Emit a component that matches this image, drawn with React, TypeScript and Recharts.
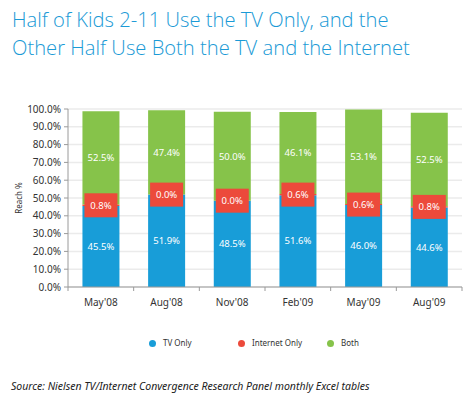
import React from "react";
import { BarChart, Bar, XAxis, YAxis, CartesianGrid, LabelList } from "recharts";

const categories = ["May'08", "Aug'08", "Nov'08", "Feb'09", "May'09", "Aug'09"];
const tvOnly = [45.5, 51.9, 48.5, 51.6, 46.0, 44.6];
const internetOnly = [0.8, 0.0, 0.0, 0.6, 0.6, 0.8];
const both = [52.5, 47.4, 50.0, 46.1, 53.1, 52.5];
const yTicks = [0, 10, 20, 30, 40, 50, 60, 70, 80, 90, 100];

const data = categories.map((c, i) => ({
  name: c,
  tv: tvOnly[i],
  internet: internetOnly[i],
  both: both[i],
}));

const FONT = "'Noto Sans', sans-serif";
const BLUE = "#189dd8";
const RED = "#ec4a3b";
const GREEN = "#86c34a";
const TITLE = "#1a9ad6";

const W = 475;
const H = 400;
const XH = 30;
const M = { top: 109, right: 13, bottom: 113 - XH, left: 0 };
const YW = 68;
const BAND = (W - M.left - M.right - YW) / categories.length;

const fmt = (v: number) => v.toFixed(1) + "%";

const XTick = (props: any) => {
  const { x, y, payload, index } = props;
  const last = index === categories.length - 1;
  return (
    <g>
      <line x1={x - BAND / 2} x2={x - BAND / 2} y1={y - 8} y2={y - 4} stroke="#9a9a9a" />
      {last && <line x1={x + BAND / 2} x2={x + BAND / 2} y1={y - 8} y2={y - 4} stroke="#9a9a9a" />}
      <text x={x} y={y + 11} textAnchor="middle" fontSize={10} fill="#333" fontFamily={FONT}>
        {payload.value}
      </text>
    </g>
  );
};

const RedBox = (props: any) => {
  const { x, y, width, height, index } = props;
  const g = both[index];
  const ppu = g > 0 ? height / g : 0;
  const ih = internetOnly[index] * ppu;
  const cy = y + height + ih / 2;
  const cx = x + width / 2;
  const bw = 33;
  const bh = 24;
  return (
    <g>
      <rect x={cx - bw / 2} y={cy - bh / 2} width={bw} height={bh} fill={RED} />
      <text x={cx} y={cy} dy={3.5} textAnchor="middle" fontSize={9.5} fill="#fff" fontFamily={FONT}>
        {fmt(internetOnly[index])}
      </text>
    </g>
  );
};

const legendItems = [
  { label: "TV Only", color: BLUE, x: 152 },
  { label: "Internet Only", color: RED, x: 241 },
  { label: "Both", color: GREEN, x: 330 },
];

export default function App() {
  return (
    <div style={{ position: "absolute", left: 0, top: 0, width: W, height: H, background: "#fff", fontFamily: FONT }}>
      <div
        style={{
          position: "absolute",
          left: 12,
          top: 5,
          fontSize: 20.2,
          lineHeight: "28px",
          color: TITLE,
          whiteSpace: "nowrap",
          fontFamily: "'Open Sans', 'Noto Sans', sans-serif",
          fontWeight: 300,
        }}
      >
        Half of Kids 2-11 Use the TV Only, and the
        <br />
        Other Half Use Both the TV and the Internet
      </div>
      <div style={{ position: "absolute", left: 0, top: 0 }}>
        <BarChart width={W} height={H} data={data} margin={M} barCategoryGap="22%">
          <CartesianGrid vertical={false} stroke="#ebebeb" strokeWidth={1.5} />
          <XAxis
            dataKey="name"
            height={XH}
            axisLine={{ stroke: "#9a9a9a" }}
            tickLine={false}
            tick={<XTick />}
            interval={0}
          />
          <YAxis
            width={YW}
            domain={[0, 100]}
            ticks={yTicks}
            tickFormatter={fmt}
            axisLine={{ stroke: "#9a9a9a" }}
            tickLine={{ stroke: "#9a9a9a" }}
            tickSize={4}
            tickMargin={3}
            tick={{ fontSize: 10, fill: "#333", fontFamily: FONT }}
            label={{
              value: "Reach %",
              angle: -90,
              position: "insideLeft",
              offset: 19,
              style: { fontSize: 8, fill: "#333", fontFamily: FONT, textAnchor: "middle" },
            }}
            interval={0}
          />
          <Bar dataKey="tv" stackId="a" fill={BLUE} isAnimationActive={false}>
            <LabelList dataKey="tv" position="center" formatter={fmt} fill="#fff" fontSize={9.5} fontFamily={FONT} />
          </Bar>
          <Bar dataKey="internet" stackId="a" fill={RED} isAnimationActive={false} />
          <Bar dataKey="both" stackId="a" fill={GREEN} isAnimationActive={false}>
            <LabelList dataKey="both" position="center" formatter={fmt} fill="#fff" fontSize={9.5} fontFamily={FONT} />
            <LabelList dataKey="both" content={<RedBox />} />
          </Bar>
        </BarChart>
      </div>
      {legendItems.map((it) => (
        <div key={it.label}>
          <div
            style={{
              position: "absolute",
              left: it.x - 3.5,
              top: 343 - 3.5,
              width: 7,
              height: 7,
              borderRadius: "50%",
              background: it.color,
            }}
          />
          <div
            style={{
              position: "absolute",
              left: it.x + 11,
              top: 337,
              fontSize: 8,
              lineHeight: "12px",
              color: "#333",
            }}
          >
            {it.label}
          </div>
        </div>
      ))}
      <div
        style={{
          position: "absolute",
          left: 11,
          top: 378,
          fontSize: 10.5,
          lineHeight: "16px",
          fontStyle: "italic",
          color: "#222",
          whiteSpace: "nowrap",
        }}
      >
        Source: Nielsen TV/Internet Convergence Research Panel monthly Excel tables
      </div>
    </div>
  );
}
